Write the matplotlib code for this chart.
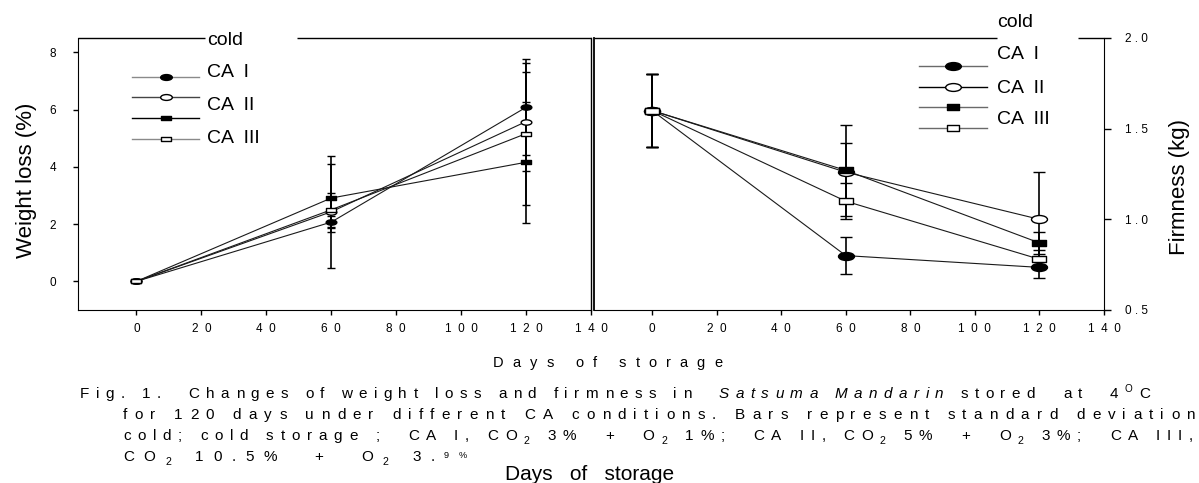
import matplotlib
matplotlib.use("Agg")
import matplotlib.pyplot as plt
from matplotlib.path import Path
from matplotlib.transforms import Affine2D

plt.rcParams["font.family"] = ["Liberation Sans", "DejaVu Sans"]

# --- data ---
days = [0, 60, 120]
series = ["cold", "CA I", "CA II", "CA III"]

# weight loss (%)
wl_cold = [0.0, 2.07, 6.08]
wl_ca1 = [0.0, 2.43, 5.58]
wl_ca2 = [0.0, 2.91, 4.16]
wl_ca3 = [0.0, 2.50, 5.16]
wl_cold_sd = [0.0, 0.20, 1.68]
wl_ca1_sd = [0.0, 1.95, 1.74]
wl_ca2_sd = [0.0, 1.20, 2.12]
wl_ca3_sd = [0.0, 0.60, 2.48]

# firmness (kg)
fi_cold = [1.60, 0.80, 0.735]
fi_ca1 = [1.60, 1.26, 1.00]
fi_ca2 = [1.60, 1.27, 0.87]
fi_ca3 = [1.60, 1.10, 0.78]
fi_cold_sd = [0.20, 0.10, 0.06]
fi_ca1_sd = [0.20, 0.16, 0.26]
fi_ca2_sd = [0.20, 0.25, 0.06]
fi_ca3_sd = [0.20, 0.10, 0.05]

day_ticks = [0, 20, 40, 60, 80, 100, 120, 140]
wl_ticks = [0, 2, 4, 6, 8]
fi_ticks = [0.5, 1.0, 1.5, 2.0]

SUB = {"scale": 0.7, "dy": -4}
caption_1 = [("Fig. 1.  Changes of weight loss and firmness in  ", {}),
             ("Satsuma Mandarin", {"style": "italic"}),
             (" stored  at  4", {}), ("O", {"scale": 0.65, "dy": 6}), ("C", {})]
caption_2 = [("for 120 days under different CA conditions. Bars represent standard deviation", {})]
caption_3 = [("cold; cold storage ;  CA I, CO", {}), ("2", SUB), (" 3%  +  O", {}), ("2", SUB),
             (" 1%;  CA II, CO", {}), ("2", SUB), (" 5%  +  O", {}), ("2", SUB),
             (" 3%;  CA III,", {})]
caption_4 = [("CO", {}), ("2", SUB), (" 10.5%  +  O", {}), ("2", SUB), (" 3.", {}),
             ("9%", {"scale": 0.6, "dy": 3})]

# --- styling ---
W, H = 1199, 483
ELLIPSE = Affine2D().scale(1.0, 0.5).transform_path(Path.unit_circle())
BOX = Path([(-1, -0.5), (1, -0.5), (1, 0.5), (-1, 0.5), (-1, -0.5)],
           [Path.MOVETO, Path.LINETO, Path.LINETO, Path.LINETO, Path.CLOSEPOLY])
marks = [(ELLIPSE, "black"), (ELLIPSE, "white"), (BOX, "black"), (BOX, "white")]


def spaced(s, n=1):
    return (" " * n).join(s)


def px_box(l, t, r, b):
    return [l / W, 1 - b / H, (r - l) / W, (b - t) / H]


def panel(ax, ys, sds, sizes, cap):
    for y, sd in zip(ys, sds):
        ax.errorbar(days, y, yerr=sd, fmt="none", ecolor="black", elinewidth=1.2,
                    capsize=cap, capthick=1, zorder=2)
    for y, (mk, fc), ms in zip(ys, marks, sizes):
        ax.plot(days, y, color="#1a1a1a", lw=0.8, marker=mk, ms=ms, mfc=fc,
                mec="black", mew=1, zorder=3)


def fake_legend(ax, line_x, mark_x, line_ys, text_x, text_ys, sizes, colors):
    # the scanned legend: symbols and names do not line up
    for (mk, fc), y, ms, c in zip(marks, line_ys, sizes, colors):
        ax.plot(line_x, [y, y], transform=ax.transAxes, color=c, lw=1, clip_on=False)
        ax.plot([mark_x], [y], transform=ax.transAxes, marker=mk, ms=ms, mfc=fc,
                mec="black", mew=1, ls="none", clip_on=False)
    for name, y in zip(series, text_ys):
        ax.text(text_x, y, name.replace(" ", "  "), transform=ax.transAxes,
                fontsize=14, va="baseline", ha="left")


def broken_top(ax, segments):
    for a, b in segments:
        ax.plot([a, b], [1, 1], transform=ax.transAxes, color="black", lw=1,
                clip_on=False, solid_capstyle="butt")


def tracked(fig, renderer, x0, y, pieces, size, x1=None, gap=None):
    """letter-spaced text run, in figure pixels"""
    items = []
    for text, opt in pieces:
        for ch in text:
            items.append((ch, opt))
    objs, widths = [], []
    for ch, opt in items:
        if ch == " ":
            objs.append(None)
            widths.append(size * 100 / 72 * 0.28)
            continue
        t = fig.text(0, 0, ch, fontsize=size * opt.get("scale", 1),
                     fontstyle=opt.get("style", "normal"),
                     transform=fig.dpi_scale_trans, va="baseline", ha="left")
        objs.append(t)
        widths.append(t.get_window_extent(renderer).width)
    if gap is None:
        gap = (x1 - x0 - sum(widths)) / (len(items) - 1)
    x = x0
    for (ch, opt), t, w in zip(items, objs, widths):
        if t is not None:
            t.set_position((x / 100, (H - y + opt.get("dy", 0)) / 100))
        x += w + gap
    return gap


fig = plt.figure(figsize=(W / 100, H / 100), dpi=100)
fig.patch.set_facecolor("white")
renderer = fig.canvas.get_renderer()

ax1 = fig.add_axes(px_box(78, 38, 591, 310))
ax2 = fig.add_axes(px_box(594, 38, 1104, 310))

# left: weight loss
panel(ax1, [wl_cold, wl_ca1, wl_ca2, wl_ca3],
      [wl_cold_sd, wl_ca1_sd, wl_ca2_sd, wl_ca3_sd], [7.7, 7.7, 6.7, 6.7], 3)
ax1.set_xlim(-18, 140)
ax1.set_ylim(-1, 8.5)
ax1.set_xticks(day_ticks, [spaced(str(d), 2) for d in day_ticks])
ax1.set_yticks(wl_ticks, [str(v) for v in wl_ticks])
ax1.tick_params(axis="x", direction="out", length=3.6, width=1, labelsize=8.5, pad=6)
ax1.tick_params(axis="y", direction="out", length=3.6, width=1, labelsize=8.5, pad=12)
ax1.spines["top"].set_visible(False)
ax1.spines["right"].set_linewidth(1.0)
broken_top(ax1, [(0, 0.2476), (0.4269, 1)])
fake_legend(ax1, [0.105, 0.236], 0.1715, [0.858, 0.782, 0.706, 0.630],
            0.2515, [0.974, 0.857, 0.735, 0.614], [8.4, 8.4, 6.5, 6.5],
            ["#8a8a8a", "#444444", "black", "#8a8a8a"])

# right: firmness
panel(ax2, [fi_cold, fi_ca1, fi_ca2, fi_ca3],
      [fi_cold_sd, fi_ca1_sd, fi_ca2_sd, fi_ca3_sd], [11.5, 11.5, 9.4, 9.4], 4)
ax2.set_xlim(-18, 140)
ax2.set_ylim(0.5, 2.0)
ax2.yaxis.tick_right()
ax2.set_xticks(day_ticks, [spaced(str(d), 2) for d in day_ticks])
ax2.set_yticks(fi_ticks, [spaced(f"{v:.1f}") for v in fi_ticks])
ax2.tick_params(axis="x", direction="out", length=3.6, width=1, labelsize=8.5, pad=6)
ax2.tick_params(axis="y", direction="out", length=5, width=1, labelsize=8.5, pad=10)
ax2.spines["top"].set_visible(False)
ax2.spines["left"].set_linewidth(1.3)
broken_top(ax2, [(0, 0.790), (0.949, 1)])
fake_legend(ax2, [0.638, 0.771], 0.703, [0.898, 0.821, 0.745, 0.670],
            0.790, [1.039, 0.922, 0.799, 0.683], [11.3, 11.3, 9.1, 9.1],
            ["#6a6a6a", "black", "#6a6a6a", "#6a6a6a"])

fig.text(27 / W, 1 - 180 / H, "Weight loss (%)", rotation=90, fontsize=16,
         ha="center", va="center")
fig.text(1180 / W, 1 - 187 / H, "Firmness (kg)", rotation=90, fontsize=16,
         ha="center", va="center")

# axis title and caption, letter-spaced like the scan
tracked(fig, renderer, 493, 367, [("Days of storage", {})], 10.5, x1=722)
tracked(fig, renderer, 80, 398, caption_1, 11, x1=1150)
tracked(fig, renderer, 123, 419, caption_2, 11, x1=1195)
tracked(fig, renderer, 123, 440, caption_3, 11, x1=1193)
tracked(fig, renderer, 123, 461, caption_4, 11, x1=467)
fig.text(590 / W, 1 - 480 / H, "Days   of   storage", fontsize=15, ha="center",
         va="baseline")

fig.savefig("out.png", dpi=100, facecolor="white")
